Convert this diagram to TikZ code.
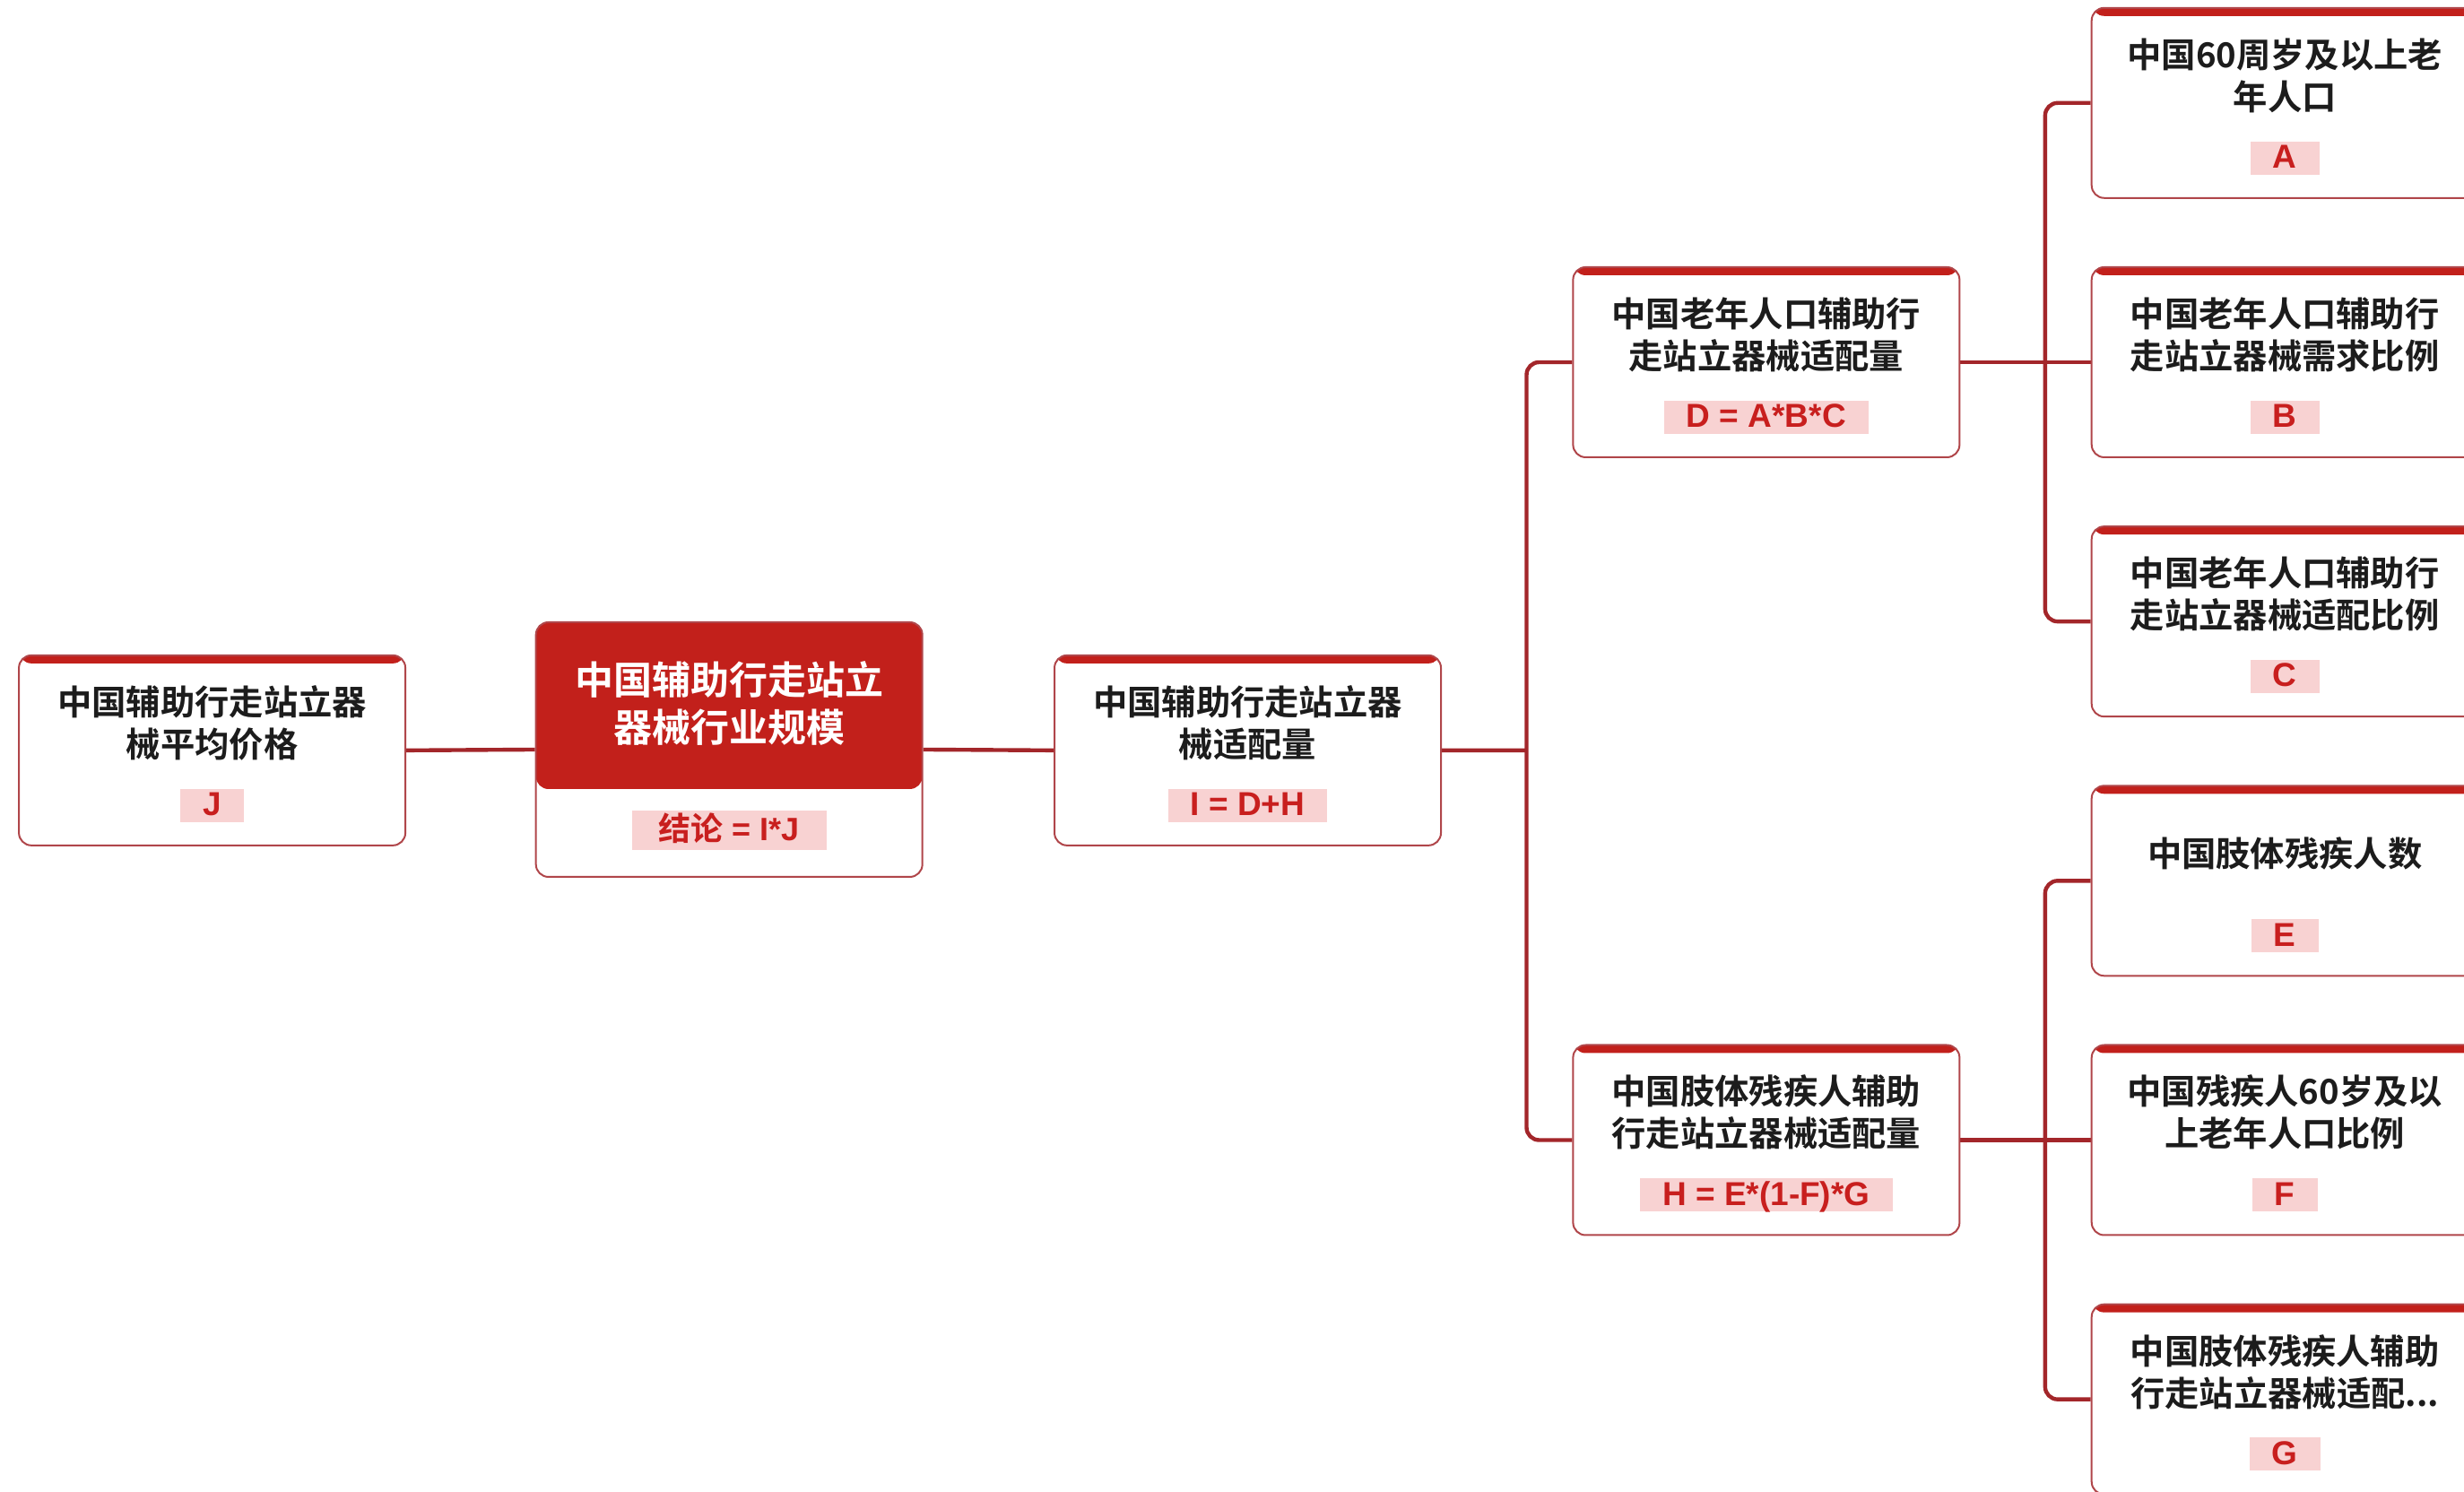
\documentclass[tikz,border=0pt]{standalone}
\usepackage{fontspec}
\setmainfont{Liberation Sans}
\newfontfamily\cjk{Noto Sans CJK SC}[BoldFont={Noto Sans CJK SC Bold}]
\usetikzlibrary{calc,backgrounds}
\definecolor{topred}{HTML}{C2201B}
\definecolor{linered}{HTML}{A3262A}
\definecolor{cardline}{HTML}{B0464A}
\definecolor{labfill}{HTML}{F8D2D2}
\definecolor{labtext}{HTML}{C81F1E}
\definecolor{titletext}{HTML}{1C1C1C}
\tikzset{
  card/.style={rectangle, rounded corners=14pt, draw=cardline, line width=2pt,
    fill=white, minimum width=431pt, minimum height=212pt, inner sep=0pt,
    path picture={\fill[topred] (path picture bounding box.north west) rectangle
      ([yshift=-9pt]path picture bounding box.north east);}},
  rootcard/.style={rectangle, rounded corners=14pt, draw=cardline, line width=2pt,
    fill=white, minimum width=431pt, minimum height=284pt, inner sep=0pt,
    path picture={\fill[topred] (path picture bounding box.north west) rectangle
      ([yshift=-186pt]path picture bounding box.north east);}},
  cardtitle/.style={font=\cjk\bfseries\fontsize{38.3}{47}\selectfont, text=titletext,
    align=center, inner sep=0pt},
  roottitle/.style={font=\cjk\bfseries\fontsize{43}{53}\selectfont, text=white,
    align=center, inner sep=0pt},
  lab/.style={fill=labfill, text=labtext, font=\bfseries\fontsize{37}{40}\selectfont,
    inner xsep=25pt, inner ysep=0pt, minimum height=37pt, minimum width=70pt,
    text height=27pt, text depth=4pt},
  rootlab/.style={lab, minimum height=44pt, minimum width=217pt, font=\bfseries\fontsize{36}{40}\selectfont},
  conn/.style={draw=linered, line width=4.4pt},
  trunk/.style={conn, rounded corners=14pt},
}
\newcommand\mycard[4]{%
  \node[card] (#1) at (#2) {};
  \node[cardtitle] (#1t) at ($(#1.north)+(0,43.5)$) {#3};
  \node[lab] (#1l) at ($(#1.north)+(0,96)$) {#4};}
\begin{document}
\begin{tikzpicture}[x=1.7526pt, y=-1.7526pt]
\useasboundingbox (0,0) rectangle (1568,949);
% cards
\mycard{J}{135,477.5}{中国辅助行走站立器\\械平均价格}{J}
\node[rootcard] (R) at (464,477) {};
\node[roottitle] (Rt) at ($(R.north)+(0,52)$) {中国辅助行走站立\\器械行业规模};
\node[rootlab] (Rl) at ($(R.north)+(0,133)$) {{\cjk\bfseries 结论} = I*J};
\mycard{I}{794,477.5}{中国辅助行走站立器\\械适配量}{I = D+H}
\mycard{D}{1124,230.5}{中国老年人口辅助行\\走站立器械适配量}{D = A*B*C}
\mycard{H}{1124,725.5}{中国肢体残疾人辅助\\行走站立器械适配量}{H = E*(1-F)*G}
\mycard{A}{1454,65.5}{中国60周岁及以上老\\年人口}{A}
\mycard{B}{1454,230.5}{中国老年人口辅助行\\走站立器械需求比例}{B}
\mycard{C}{1454,395.5}{中国老年人口辅助行\\走站立器械适配比例}{C}
\mycard{E}{1454,560.5}{中国肢体残疾人数}{E}
\mycard{F}{1454,725.5}{中国残疾人60岁及以\\上老年人口比例}{F}
\mycard{G}{1454,890.5}{中国肢体残疾人辅助\\行走站立器械适配...}{G}
% connectors
\coordinate (t1) at ($(I.east)!0.65!(D.west |- I.east)$);
\coordinate (t2) at ($(D.east)!0.65!(B.west)$);
\coordinate (t3) at ($(H.east)!0.65!(F.west)$);
\begin{scope}[on background layer]
\fill[white] (0,0) rectangle (1568,949);
\draw[conn] (J.east) -- (R.west);
\draw[conn] (R.east) -- (I.west);
\draw[conn] (I.east) -- (t1);
\draw[trunk] (D.west) -| (t1) |- (H.west);
\draw[conn] (D.east) -- (B.west);
\draw[trunk] (A.west) -| (t2) |- (C.west);
\draw[conn] (H.east) -- (F.west);
\draw[trunk] (E.west) -| (t3) |- (G.west);
\end{scope}
\end{tikzpicture}
\end{document}
